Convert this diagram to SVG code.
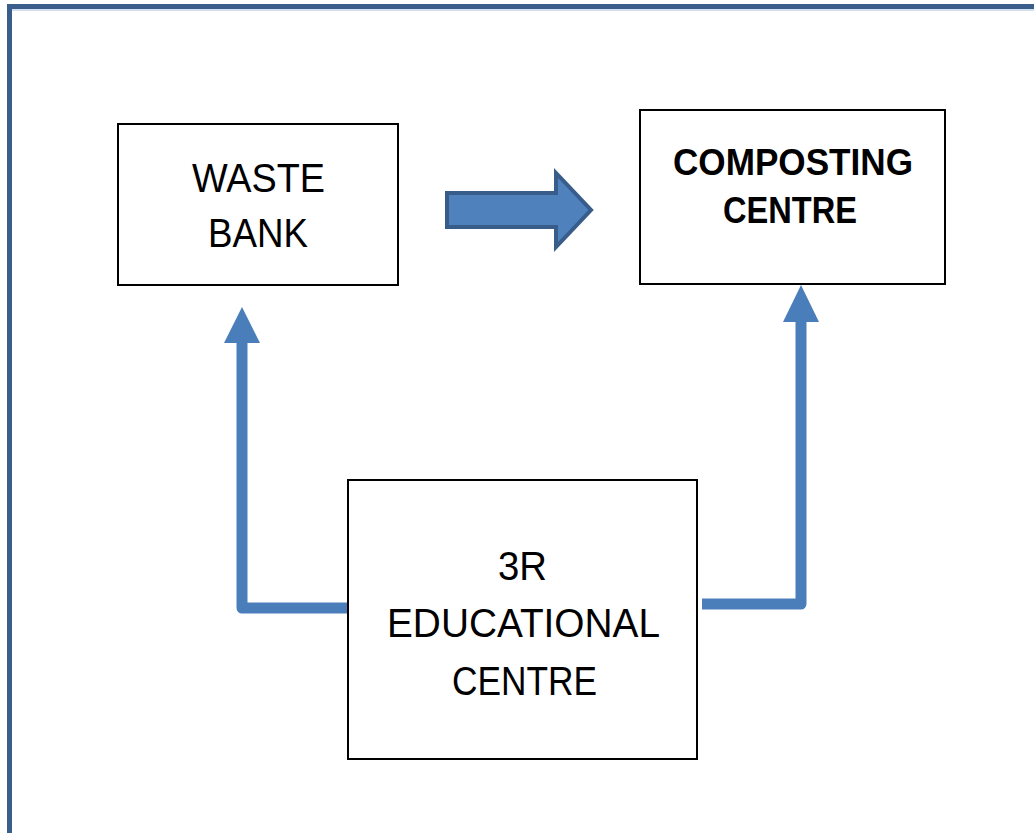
<svg xmlns="http://www.w3.org/2000/svg" width="1034" height="833" viewBox="0 0 1034 833">
<style>
.box{fill:#fff;stroke:#000;stroke-width:2}
.t{font-family:"Liberation Sans",Arial,sans-serif;font-size:40px;fill:#000;text-anchor:middle}
.b{font-weight:bold;font-size:36px}
.con{fill:none;stroke:#4a7ebb;stroke-width:11;stroke-linejoin:round}
.head{fill:#4a7ebb}
</style>
<rect x="0" y="0" width="1034" height="833" fill="#fff"/>
<rect x="9.5" y="6.5" width="1100" height="900" fill="none" stroke="#3a5e8c" stroke-width="5"/>
<line x1="12" y1="10" x2="1034" y2="10" stroke="#a9c0dc" stroke-width="1"/>
<g id="connectors">
<path class="con" d="M347,608 L242,608 L242,338"/>
<polygon class="head" points="242,307 260,343 224,343"/>
<path class="con" d="M702,604 L801,604 L801,318"/>
<polygon class="head" points="801,285 819,322 783,322"/>
<polygon points="447,193 556,193 556,173 591,210 556,247 556,227 447,227" fill="#4f81bd" stroke="#385d8a" stroke-width="4"/>
</g>
<g id="waste-bank">
<rect class="box" x="118" y="124" width="280" height="161"/>
<text class="t" x="258.5" y="192" textLength="133" lengthAdjust="spacingAndGlyphs">WASTE</text>
<text class="t" x="258" y="247" textLength="100" lengthAdjust="spacingAndGlyphs">BANK</text>
</g>
<g id="composting-centre">
<rect class="box" x="640" y="110" width="305" height="174"/>
<text class="t b" x="793" y="175" textLength="240" lengthAdjust="spacingAndGlyphs">COMPOSTING</text>
<text class="t b" x="790" y="223" textLength="134" lengthAdjust="spacingAndGlyphs">CENTRE</text>
</g>
<g id="educational-centre">
<rect class="box" x="348" y="480" width="349" height="279"/>
<text class="t" x="522.5" y="580" textLength="49" lengthAdjust="spacingAndGlyphs">3R</text>
<text class="t" x="523.5" y="637" textLength="273" lengthAdjust="spacingAndGlyphs">EDUCATIONAL</text>
<text class="t" x="524.5" y="695" textLength="145" lengthAdjust="spacingAndGlyphs">CENTRE</text>
</g>
</svg>
